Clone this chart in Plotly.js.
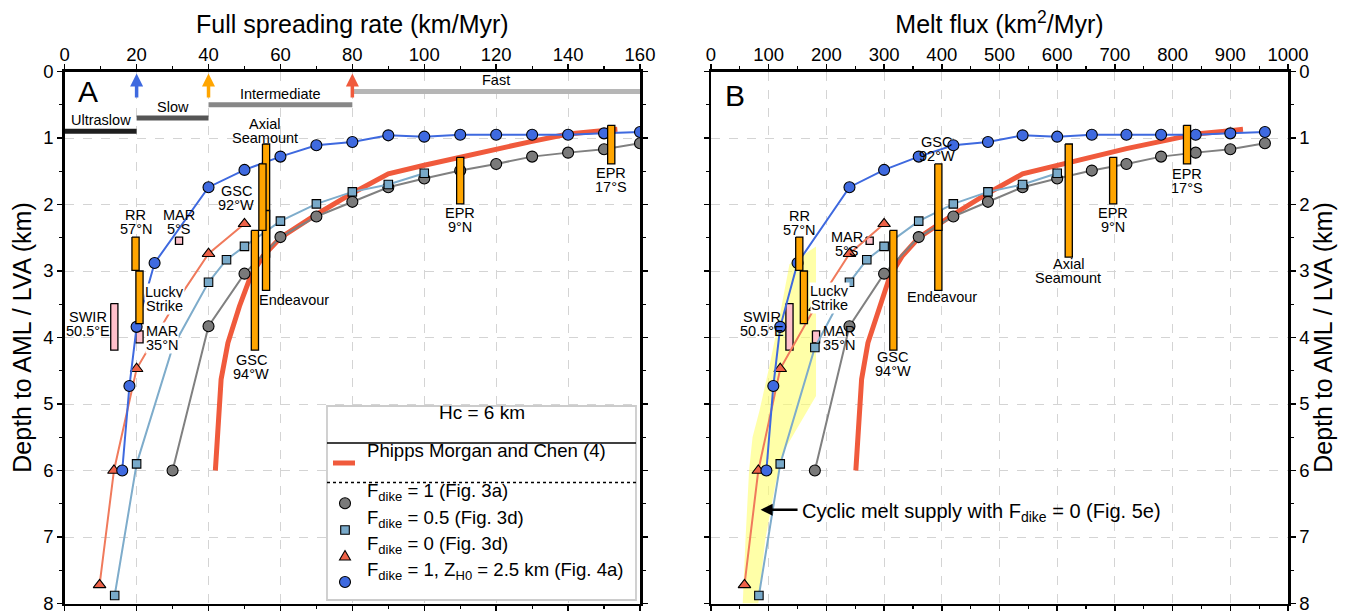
<!DOCTYPE html>
<html><head><meta charset="utf-8">
<script src="https://cdn.plot.ly/plotly-3.0.1.min.js"></script>
<style>html,body{margin:0;padding:0;background:#fff}#plot{width:1356px;height:611px}</style>
</head><body><div id="plot"></div>
<script>
// ---------------- DATA ----------------
// Spreading-rate regimes (panel A)
const regimeNames = ['Ultraslow', 'Slow', 'Intermediate', 'Fast'];
const regimeStart = [0, 20, 40, 80];
const regimeEnd = [20, 40, 80, 160];
const regimeDepth = [0.9, 0.7, 0.5, 0.3];
const boundaryRates = [20, 40, 80];

// Phipps Morgan and Chen (4)
const pmcRate = [41.9, 43.5, 45.4, 48.6, 51.7, 55.1, 60, 70, 80, 90, 100, 110, 120, 130, 140, 150, 153.7];
const pmcFlux = [251, 261, 272, 292, 310, 331, 360, 420, 480, 540, 600, 660, 720, 780, 840, 900, 922];
const pmcDepth = [6.0, 4.63, 4.08, 3.53, 3.08, 2.78, 2.5, 2.15, 1.83, 1.54, 1.41, 1.29, 1.16, 1.05, 0.94, 0.89, 0.87];

// F_dike = 1 (Fig. 3a)
const grayRate = [30, 40, 50, 60, 70, 80, 90, 100, 110, 120, 130, 140, 150, 160];
const grayFlux = [180, 240, 300, 360, 420, 480, 540, 600, 660, 720, 780, 840, 900, 960];
const grayDepth = [6.0, 3.83, 3.04, 2.49, 2.18, 1.96, 1.74, 1.61, 1.49, 1.39, 1.28, 1.22, 1.17, 1.08];

// F_dike = 0.5 (Fig. 3d)
const sqRate = [13.9, 20, 30, 40, 45, 50, 60, 70, 80, 90, 100];
const sqFlux = [83, 120, 180, 240, 270, 300, 360, 420, 480, 540, 600];
const sqDepth = [7.88, 5.9, 4.15, 3.17, 2.83, 2.63, 2.25, 1.99, 1.81, 1.70, 1.53];

// F_dike = 0 (Fig. 3d)
const triRate = [9.7, 13.7, 20, 30, 40, 50];
const triFlux = [58, 82, 120, 180, 240, 300];
const triDepth = [7.72, 6.0, 4.47, 3.55, 2.74, 2.29];

// F_dike = 1, Z_H0 = 2.5 km (Fig. 4a)
const blueRate = [16, 18, 20, 25, 40, 50, 60, 70, 80, 90, 100, 110, 120, 130, 140, 150, 160];
const blueFlux = [96, 108, 120, 150, 240, 300, 360, 420, 480, 540, 600, 660, 720, 780, 840, 900, 960];
const blueDepth = [6.0, 4.73, 3.84, 2.88, 1.74, 1.48, 1.28, 1.11, 1.06, 0.96, 0.98, 0.95, 0.95, 0.95, 0.95, 0.93, 0.91];

// Observations (orange bars)
const obsNames = ['Axial Seamount', 'Endeavour', 'GSC 94°W', 'GSC 92°W', 'RR 57°N', 'Lucky Strike', 'EPR 9°N', 'EPR 17°S'];
const obsRate = [56, 56, 52.9, 55, 19.7, 20.8, 110, 152];
const obsFlux = [620, 394, 316, 394, 153, 161, 697, 825];
const obsTop = [1.09, 2.09, 2.39, 1.39, 2.49, 3.0, 1.29, 0.81];
const obsBottom = [2.79, 3.29, 4.19, 2.39, 2.99, 3.79, 1.99, 1.39];

// Observations (pink boxes)
const pinkNames = ['SWIR 50.5°E', 'MAR 35°N', 'MAR 5°S'];
const pinkRate = [13.8, 20.8, 31.8];
const pinkFlux = [136, 182, 275];
const pinkTop = [3.49, 3.9, 2.49];
const pinkBottom = [4.19, 4.08, 2.6];

// Cyclic melt supply with F_dike = 0 (Fig. 5e) envelope (panel B)
const cyclicFlux = [136, 182, 182, 128, 112, 94, 82, 55, 60, 66, 72, 84, 101, 119, 136];
const cyclicDepth = [2.9, 2.63, 4.88, 5.68, 6.19, 7.04, 8.0, 8.0, 7.0, 6.0, 5.5, 5.1, 4.44, 3.68, 2.9];
const cyclicArrowFrom = 150, cyclicArrowTo = 86, cyclicArrowDepth = 6.59;

// ---------------- STYLE ----------------
const FONT = 'Liberation Sans, Arial, Helvetica, sans-serif';
const C = {
  pmc: '#f05a3c', gray: '#808080', grayM: '#7a7a7a', sq: '#7eaccb', sqM: '#78a9c9',
  tri: '#f07a5c', triM: '#ee6248', blue: '#3e69df', blueM: '#3f6ae0',
  orange: '#ffa500', pink: '#ffc0cb', yellow: 'rgba(255,255,110,0.6)'
};
const regimeColors = ['#1e1e1e', '#555555', '#878787', '#b6b6b6'];
const arrowColors = ['#3e69df', '#ffa500', '#f05a3c'];

const W = 1356, H = 611;
const px = v => v / W, py = v => 1 - v / H;
const domA = [64.7 / W, 640 / W], domB = [711 / W, 1288 / W];
const domY = [1 - 603.5 / H, 1 - 71.5 / H];

const traces = [];
function rect(cx, top, bot, hw, fill, xa, ya) {
  return { type: 'scatter', mode: 'lines', x: [cx - hw, cx + hw, cx + hw, cx - hw, cx - hw],
    y: [top, top, bot, bot, top], fill: 'toself', fillcolor: fill,
    line: { color: '#000', width: 1.3 }, xaxis: xa, yaxis: ya, hoverinfo: 'skip', showlegend: false };
}
function series(x, y, lineColor, lw, mode, sym, mcol, msize, xa, ya) {
  const t = { type: 'scatter', mode: mode, x: x, y: y, xaxis: xa, yaxis: ya, showlegend: false,
    line: { color: lineColor, width: lw }, hoverinfo: 'skip' };
  if (mode.indexOf('markers') >= 0) t.marker = { symbol: sym, color: mcol, size: msize, line: { color: '#000', width: 1.1 } };
  return t;
}

// ---- panel A ----
regimeNames.forEach((n, i) => {
  traces.push({ type: 'scatter', mode: 'lines', x: [regimeStart[i], regimeEnd[i]], y: [regimeDepth[i], regimeDepth[i]],
    line: { color: regimeColors[i], width: 5 }, xaxis: 'x', yaxis: 'y', showlegend: false, hoverinfo: 'skip' });
});
pinkNames.forEach((n, i) => traces.push(rect(pinkRate[i], pinkTop[i], pinkBottom[i], 1.0, C.pink, 'x', 'y')));
traces.push(series(pmcRate, pmcDepth, C.pmc, 5, 'lines', null, null, 0, 'x', 'y'));
traces.push(series(grayRate, grayDepth, C.gray, 2, 'lines+markers', 'circle', C.grayM, 11, 'x', 'y'));
traces.push(series(sqRate, sqDepth, C.sq, 2, 'lines+markers', 'square', C.sqM, 8.5, 'x', 'y'));
traces.push(series(triRate, triDepth, C.tri, 2, 'lines+markers', 'triangle-up', C.triM, 11, 'x', 'y'));
traces.push(series(blueRate, blueDepth, C.blue, 2, 'lines+markers', 'circle', C.blueM, 11, 'x', 'y'));
obsNames.forEach((n, i) => traces.push(rect(obsRate[i], obsTop[i], obsBottom[i], 1.0, C.orange, 'x', 'y')));

// ---- panel B ----
traces.push({ type: 'scatter', mode: 'lines', x: cyclicFlux, y: cyclicDepth, fill: 'toself', fillcolor: C.yellow,
  line: { width: 0, color: 'rgba(0,0,0,0)' }, xaxis: 'x2', yaxis: 'y2', showlegend: false, hoverinfo: 'skip' });
pinkNames.forEach((n, i) => traces.push(rect(pinkFlux[i], pinkTop[i], pinkBottom[i], 6.2, C.pink, 'x2', 'y2')));
traces.push(series(pmcFlux, pmcDepth, C.pmc, 5, 'lines', null, null, 0, 'x2', 'y2'));
traces.push(series(grayFlux, grayDepth, C.gray, 2, 'lines+markers', 'circle', C.grayM, 11, 'x2', 'y2'));
traces.push(series(sqFlux, sqDepth, C.sq, 2, 'lines+markers', 'square', C.sqM, 8.5, 'x2', 'y2'));
traces.push(series(triFlux, triDepth, C.tri, 2, 'lines+markers', 'triangle-up', C.triM, 11, 'x2', 'y2'));
traces.push(series(blueFlux, blueDepth, C.blue, 2, 'lines+markers', 'circle', C.blueM, 11, 'x2', 'y2'));
obsNames.forEach((n, i) => traces.push(rect(obsFlux[i], obsTop[i], obsBottom[i], 6.2, C.orange, 'x2', 'y2')));

// ---------------- ANNOTATIONS ----------------
const ann = [];
const shapes = [];
function label(xa, ya, x, y, text, bg) {
  const lines = text.split('|');
  const n = lines.length;
  lines.forEach((t, i) => {
    const a = { xref: xa, yref: ya, x: x, y: y, text: t, showarrow: false, xanchor: 'center', yanchor: 'middle',
      yshift: ((n - 1) / 2 - i) * 14, font: { family: FONT, size: 14.5, color: '#000' }, borderpad: 0 };
    if (bg) a.bgcolor = '#ffffff';
    ann.push(a);
  });
}
// panel A labels
label('x', 'y', 55.7, 0.9, 'Axial|Seamount');
label('x', 'y', 63.9, 3.43, 'Endeavour');
label('x', 'y', 51.9, 4.45, 'GSC|94°W');
label('x', 'y', 47.7, 1.9, 'GSC|92°W');
label('x', 'y', 19.7, 2.26, 'RR|57°N');
label('x', 'y', 27.8, 3.42, 'Lucky|Strike', true);
label('x', 'y', 110, 2.24, 'EPR|9°N');
label('x', 'y', 152, 1.63, 'EPR|17°S');
label('x', 'y', 6.5, 3.8, 'SWIR|50.5°E');
label('x', 'y', 27.0, 4.0, 'MAR|35°N', true);
label('x', 'y', 31.8, 2.26, 'MAR|5°S');
// panel B labels
label('x2', 'y2', 619, 3.0, 'Axial|Seamount');
label('x2', 'y2', 401, 3.39, 'Endeavour');
label('x2', 'y2', 315, 4.4, 'GSC|94°W');
label('x2', 'y2', 391, 1.17, 'GSC|92°W');
label('x2', 'y2', 153, 2.28, 'RR|57°N');
label('x2', 'y2', 205, 3.4, 'Lucky|Strike', true);
label('x2', 'y2', 697, 2.24, 'EPR|9°N');
label('x2', 'y2', 825, 1.64, 'EPR|17°S');
label('x2', 'y2', 88, 3.79, 'SWIR|50.5°E');
label('x2', 'y2', 221, 4.0, 'MAR|35°N');
label('x2', 'y2', 236, 2.6, 'MAR|5°S');

// regime labels and boundary arrows
regimeNames.forEach((n, i) => ann.push({ xref: 'x', yref: 'y', x: (regimeStart[i] + regimeEnd[i]) / 2, y: regimeDepth[i],
  text: n, showarrow: false, yanchor: 'bottom', yshift: 1, font: { family: FONT, size: 14.5, color: '#000' } }));
boundaryRates.forEach((r, i) => {
  shapes.push({ type: 'line', xref: 'x', yref: 'y', x0: r, x1: r, y0: 0.39, y1: 0.2, line: { color: arrowColors[i], width: 3.5 } });
  shapes.push({ type: 'path', xref: 'x', yref: 'y', xsizemode: 'pixel', ysizemode: 'pixel', xanchor: r, yanchor: 0.03,
    path: 'M 0 0 L -6.5 -13 L 6.5 -13 Z', fillcolor: arrowColors[i], line: { width: 0 } });
});

// panel letters
ann.push({ xref: 'x', yref: 'y', x: 6.6, y: 0.3, text: 'A', showarrow: false, font: { family: FONT, size: 30, color: '#000' } });
ann.push({ xref: 'x2', yref: 'y2', x: 41.6, y: 0.36, text: 'B', showarrow: false, font: { family: FONT, size: 30, color: '#000' } });

// cyclic melt annotation (arrow + text)
shapes.push({ type: 'line', xref: 'x2', yref: 'y2', x0: cyclicArrowFrom, x1: cyclicArrowTo + 15, y0: cyclicArrowDepth, y1: cyclicArrowDepth,
  line: { color: '#000', width: 2.5 } });
shapes.push({ type: 'path', xref: 'x2', yref: 'y2', xsizemode: 'pixel', ysizemode: 'pixel', xanchor: cyclicArrowTo, yanchor: cyclicArrowDepth,
  path: 'M 0 0 L 12 6 L 12 -6 Z', fillcolor: '#000', line: { width: 0 } });
ann.push({ xref: 'x2', yref: 'y2', x: 154.5, y: cyclicArrowDepth, xanchor: 'left', yshift: -3,
  text: 'Cyclic melt supply with F<sub>dike</sub> = 0 (Fig. 5e)',
  showarrow: false, font: { family: FONT, size: 20, color: '#000' } });

// ---------------- LEGEND (panel A) ----------------
shapes.push({ type: 'rect', xref: 'paper', yref: 'paper', x0: px(327), x1: px(636), y0: py(600), y1: py(406),
  fillcolor: '#fff', line: { color: '#cccccc', width: 1.8 } });
shapes.push({ type: 'line', xref: 'paper', yref: 'paper', x0: px(327), x1: px(636), y0: py(443), y1: py(443), line: { color: '#000', width: 1.6 } });
shapes.push({ type: 'line', xref: 'paper', yref: 'paper', x0: px(333), x1: px(355), y0: py(463), y1: py(463), line: { color: C.pmc, width: 5 } });
shapes.push({ type: 'line', xref: 'paper', yref: 'paper', x0: px(327), x1: px(636), y0: py(482.5), y1: py(482.5), line: { color: '#000', width: 1.3, dash: 'dot' } });
const legRows = [503.3, 530, 556, 582];
function pixShape(type, cxp, cyp, extra) {
  return Object.assign({ type: type, xref: 'paper', yref: 'paper', xsizemode: 'pixel', ysizemode: 'pixel',
    xanchor: px(cxp), yanchor: py(cyp) }, extra);
}
shapes.push(pixShape('circle', 345, legRows[0], { x0: -5.5, x1: 5.5, y0: -5.5, y1: 5.5, fillcolor: C.grayM, line: { color: '#000', width: 1.1 } }));
shapes.push(pixShape('rect', 345, legRows[1], { x0: -4.3, x1: 4.3, y0: -4.3, y1: 4.3, fillcolor: C.sqM, line: { color: '#000', width: 1.1 } }));
shapes.push(pixShape('path', 345, legRows[2], { path: 'M -5.5 -4 L 5.5 -4 L 0 5.5 Z', fillcolor: C.triM, line: { color: '#000', width: 1.1 } }));
shapes.push(pixShape('circle', 345, legRows[3], { x0: -5.5, x1: 5.5, y0: -5.5, y1: 5.5, fillcolor: C.blueM, line: { color: '#000', width: 1.1 } }));
const legFont = { family: FONT, size: 18.6, color: '#000' };
ann.push({ xref: 'paper', yref: 'paper', x: px(482), y: py(425), text: 'Hc = 6 km', showarrow: false, font: { family: FONT, size: 19, color: '#000' } });
ann.push({ xref: 'paper', yref: 'paper', x: px(365), y: py(463), xanchor: 'left', text: 'Phipps Morgan and Chen (4)', showarrow: false, font: legFont });
['F<sub>dike</sub> = 1 (Fig. 3a)', 'F<sub>dike</sub> = 0.5 (Fig. 3d)', 'F<sub>dike</sub> = 0 (Fig. 3d)',
 'F<sub>dike</sub> = 1, Z<sub>H0</sub> = 2.5 km (Fig. 4a)'].forEach((t, i) =>
  ann.push({ xref: 'paper', yref: 'paper', x: px(365), y: py(legRows[i]), xanchor: 'left', yshift: -3, text: t, showarrow: false, font: legFont }));

// ---------------- AXES ----------------
function xax(dom, range, dtick, mdtick, title, anchor) {
  return { domain: dom, range: range, side: 'top', anchor: anchor, dtick: dtick, tick0: 0,
    ticks: 'outside', ticklen: 5, tickwidth: 1.5, tickcolor: '#000', ticklabeloverflow: 'allow',
    ticklabelstandoff: -4,
    showline: true, linewidth: 2.5, linecolor: '#000', mirror: 'allticks',
    showgrid: true, gridcolor: '#d4d4d4', griddash: 'dash', gridwidth: 1, zeroline: false,
    minor: { dtick: mdtick, ticks: 'outside', ticklen: 3, tickcolor: '#000', tickwidth: 1.2, showgrid: false },
    tickfont: { family: FONT, size: 18.5, color: '#000' },
    title: { text: title, font: { family: FONT, size: 25, color: '#000' }, standoff: 3 } };
}
function yax(side, anchor) {
  return { domain: domY, range: [8, 0], side: side, anchor: anchor, dtick: 1, tick0: 0,
    ticks: 'outside', ticklen: 5, tickwidth: 1.5, tickcolor: '#000', ticklabeloverflow: 'allow',
    showline: true, linewidth: 2.5, linecolor: '#000', mirror: 'allticks',
    showgrid: true, gridcolor: '#d4d4d4', griddash: 'dash', gridwidth: 1, zeroline: false,
    minor: { dtick: 0.5, ticks: 'outside', ticklen: 3, tickcolor: '#000', tickwidth: 1.2, showgrid: false },
    tickfont: { family: FONT, size: 18.5, color: '#000' },
    title: { text: 'Depth to AML / LVA (km)', font: { family: FONT, size: 25, color: '#000' }, standoff: 5 } };
}

const layout = {
  width: W, height: H, margin: { l: 0, r: 0, t: 0, b: 0 },
  paper_bgcolor: '#fff', plot_bgcolor: '#fff', showlegend: false,
  font: { family: FONT, color: '#000' },
  xaxis: xax(domA, [0, 160], 20, 10, 'Full spreading rate (km/Myr)', 'y'),
  yaxis: yax('left', 'x'),
  xaxis2: xax(domB, [0, 1000], 100, 50, 'Melt flux (km<sup>2</sup>/Myr)', 'y2'),
  yaxis2: yax('right', 'x2'),
  annotations: ann, shapes: shapes
};

Plotly.newPlot('plot', traces, layout, { staticPlot: true, displayModeBar: false });
</script>
</body></html>
